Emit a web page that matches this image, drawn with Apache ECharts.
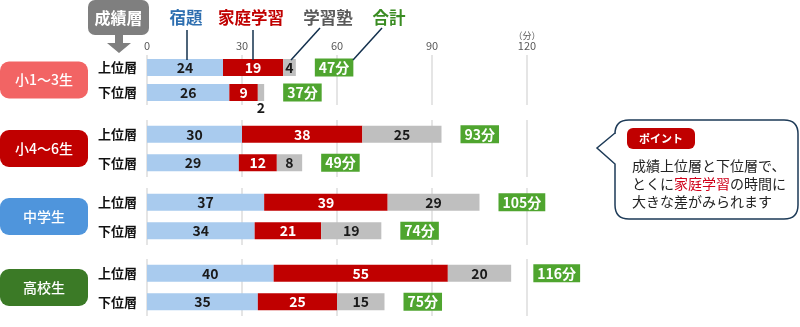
<!DOCTYPE html>
<html>
<head>
    <meta charset="utf-8">
    <title>成績層別 学習時間</title>
    <script src="https://cdn.jsdelivr.net/npm/echarts@6/dist/echarts.min.js"></script>
    <style type="text/css">
        html, body { margin: 0; padding: 0; background: #fff; }
        #chart { width: 800px; height: 327px; }
        #err { position: absolute; left: 0; top: 0; font: 10px monospace; color: #000; white-space: pre-wrap; width: 800px; }
    </style>
</head>
<body>
    <div id="chart"></div>
    <div id="err"></div>
    <script>
        // データ（上位層, 下位層 の順）
        var groups = ['小1～3生', '小4～6生', '中学生', '高校生'];
        var layers = ['上位層', '下位層'];
        var homework = [24, 26, 30, 29, 37, 34, 40, 35];   // 宿題
        var homeStudy = [19, 9, 38, 12, 39, 21, 55, 25];   // 家庭学習
        var cramSchool = [4, 2, 25, 8, 29, 19, 20, 15];    // 学習塾
        var totals = [47, 37, 93, 49, 105, 74, 116, 75];   // 合計
        var tickValues = [0, 30, 60, 90, 120];

        var groupColors = ['#f26464', '#c00000', '#4f95dc', '#3b7a26'];
        var gridTops = [55, 120, 188, 259];
        var gridHeights = [50, 57, 57, 57];
        var font = '"Noto Sans CJK JP", "Noto Sans", sans-serif';

        var chart = echarts.init(document.getElementById('chart'));

        var grids = [], xAxes = [], yAxes = [], series = [];
        for (var i = 0; i < groups.length; i++) {
            grids.push({ left: 147, right: 273, top: gridTops[i], height: gridHeights[i] });
            xAxes.push({
                gridIndex: i, type: 'value', position: 'top',
                min: tickValues[0], max: tickValues[tickValues.length - 1], interval: 30,
                axisLine: { show: false }, axisTick: { show: false },
                axisLabel: { show: i === 0, color: '#595959', fontSize: 11, margin: 4, fontFamily: font },
                splitLine: { lineStyle: { color: '#dcdcdc', width: 1.5 } }
            });
            yAxes.push({
                gridIndex: i, type: 'category', data: layers, inverse: true,
                axisLine: { show: false }, axisTick: { show: false },
                axisLabel: { color: '#111', fontSize: 13, fontWeight: 'bold', margin: 10, fontFamily: font }
            });
            var s = i * 2;
            series.push({
                type: 'bar', stack: 'g' + i, xAxisIndex: i, yAxisIndex: i, barWidth: 17, barGap: '-100%',
                name: '宿題', data: homework.slice(s, s + 2),
                itemStyle: { color: '#a9cbee' },
                label: { show: true, color: '#1a1a1a', fontSize: 14, fontWeight: 'bold', fontFamily: font }
            });
            series.push({
                type: 'bar', stack: 'g' + i, xAxisIndex: i, yAxisIndex: i, barWidth: 17, barGap: '-100%',
                name: '家庭学習', data: homeStudy.slice(s, s + 2),
                itemStyle: { color: '#c00000' },
                label: { show: true, color: '#fff', fontSize: 14, fontWeight: 'bold', fontFamily: font }
            });
            series.push({
                type: 'bar', stack: 'g' + i, xAxisIndex: i, yAxisIndex: i, barWidth: 17, barGap: '-100%',
                name: '学習塾',
                data: cramSchool.slice(s, s + 2).map(function (v) {
                    // 幅が狭すぎる値はバーの下に表示
                    return v < 3 ? { value: v, label: { position: 'bottom', distance: 0 } } : v;
                }),
                itemStyle: { color: '#bfbfbf' },
                label: { show: true, color: '#1a1a1a', fontSize: 14, fontWeight: 'bold', fontFamily: font }
            });
            series.push({
                type: 'bar', name: '合計', xAxisIndex: i, yAxisIndex: i, barWidth: 17, barGap: '-100%',
                data: totals.slice(s, s + 2), z: 1, silent: true,
                itemStyle: { color: 'rgba(0,0,0,0)' },
                label: {
                    show: true, position: 'right', distance: 19,
                    formatter: '{c}分', color: '#fff', fontSize: 14, fontWeight: 'bold', fontFamily: font,
                    backgroundColor: '#4fa52f', padding: [2, 4, 1, 4], lineHeight: 15
                }
            });
        }

        function report(tag, e) {
            document.getElementById('err').textContent += tag + ': ' + e.message + '\n';
        }

        try {
            chart.setOption({
                animation: false,
                grid: grids,
                xAxis: xAxes,
                yAxis: yAxes,
                series: series
            });
        } catch (e) { report('chart', e); }

        // 装飾（見出し・凡例・吹き出し）は zrender に直接描く
        var zr = chart.getZr();
        var G = echarts.graphic;
        function add(tag, make) {
            try { zr.add(make()); } catch (e) { report(tag, e); }
        }
        function label(x, y, text, fill, f, z) {
            return new G.Text({ x: x, y: y, z: z || 0, style: { text: text, fill: fill, font: f, align: 'center', verticalAlign: 'middle' } });
        }

        groups.forEach(function (name, g) {
            var top = gridTops[g] + gridHeights[g] / 2 - 18.5;
            add('badge' + g, function () {
                return new G.Rect({ shape: { x: 0, y: top, width: 88, height: 37, r: 9 }, style: { fill: groupColors[g] } });
            });
            add('badgeText' + g, function () { return label(44, top + 18.5, name, '#fff', '500 14px ' + font); });
        });

        add('head', function () { return new G.Rect({ shape: { x: 88, y: 0, width: 61, height: 35, r: 7 }, style: { fill: '#7f7f7f' } }); });
        add('headText', function () { return label(118.5, 18, '成績層', '#fff', 'bold 16px ' + font); });
        add('arrow', function () {
            return new G.Polygon({ shape: { points: [[115, 35], [123, 35], [123, 43], [131, 43], [119, 53], [107, 43], [115, 43]] }, style: { fill: '#7f7f7f' } });
        });
        add('l1', function () { return label(186, 18, '宿題', '#2e6fb0', 'bold 16.5px ' + font); });
        add('l2', function () { return label(251, 18, '家庭学習', '#c00000', 'bold 16.5px ' + font); });
        add('l3', function () { return label(328, 18, '学習塾', '#595959', 'bold 16.5px ' + font); });
        add('l4', function () { return label(389, 18, '合計', '#3a8c22', 'bold 16.5px ' + font); });
        [[187, 30, 187, 60], [253, 30, 253, 60], [320, 28, 291, 60], [382, 28, 353, 60]].forEach(function (p, k) {
            add('lead' + k, function () {
                return new G.Line({ z: 5, shape: { x1: p[0], y1: p[1], x2: p[2], y2: p[3] }, style: { stroke: '#13304d', lineWidth: 1.5 } });
            });
        });
        add('unit', function () { return label(527, 36, '（分）', '#595959', '9px ' + font); });

        add('bubble', function () {
            return G.makePath('M629 120 H784 Q798 120 798 134 V205 Q798 219 784 219 H629 Q615 219 615 205 V164 L597 148 L615 133 V134 Q615 120 629 120 Z', {
                z: 10, style: { fill: '#fff', stroke: '#1d3a57', lineWidth: 1.5 }
            });
        });
        add('point', function () { return new G.Rect({ z: 11, shape: { x: 627, y: 128, width: 68, height: 21, r: 6 }, style: { fill: '#c00000' } }); });
        add('pointText', function () { return label(661, 138.5, 'ポイント', '#fff', 'bold 11px ' + font, 12); });
        add('note', function () {
            return new G.Text({
                z: 12, x: 632, y: 157,
                style: {
                    text: '成績上位層と下位層で、\nとくに{r|家庭学習}の時間に\n大きな差がみられます',
                    fill: '#222', font: '14px ' + font, lineHeight: 18,
                    rich: { r: { fill: '#d0021b', font: '14px ' + font, lineHeight: 18 } }
                }
            });
        });
    </script>
</body>
</html>
